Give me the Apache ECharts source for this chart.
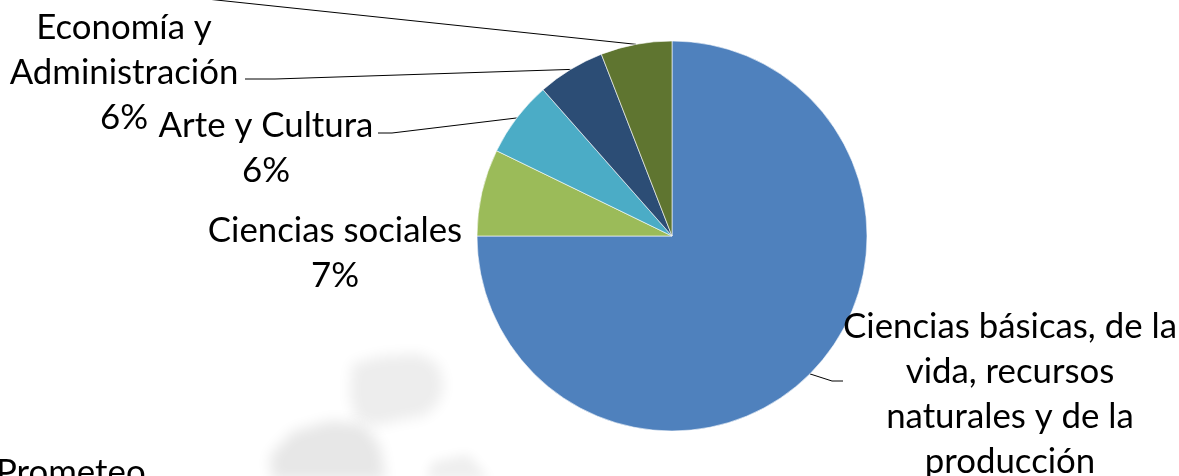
<!DOCTYPE html>
<html><head><meta charset="utf-8">
<script src="https://cdn.jsdelivr.net/npm/echarts@6/dist/echarts.min.js"></script>
<style>html,body{margin:0;padding:0;background:#fff;overflow:hidden}#c{width:1179px;height:476px}</style>
</head><body><div id="c"></div>
<script>
// ---- data ----
var categories = [
  'Ciencias básicas, de la vida, recursos naturales y de la producción',
  'Ciencias sociales',
  'Arte y Cultura',
  'Economía y Administración',
  'Educación'
];
var labelTexts = [
  'Ciencias básicas, de la\nvida, recursos\nnaturales y de la\nproducción',
  'Ciencias sociales',
  'Arte y Cultura',
  'Economía y\nAdministración',
  'Educación'
];
var values = [75.0, 7.2, 6.3, 5.6, 5.9];
var percentLabels = ['75%', '7%', '6%', '6%', '6%'];
var colors = ['#4F81BD', '#9BBB59', '#4BACC6', '#2C4D75', '#5F7530'];

// ---- layout (label placement) ----
var CX = 672, CY = 236, R = 195;
var FONT = 'Lato';
var FS = 34.8, LH = 45;
var labelPlace = [
  {x: 1010, y: 417, pts: [[832, 381], [843, 381]], line: true},
  {x: 335, y: 253, pts: null, line: false},
  {x: 266, y: 148, pts: [[392, 133], [378, 133]], line: true},
  {x: 124, y: 73, pts: [[275, 79], [245, 79]], line: true},
  {x: 70, y: -45, pts: [[150, -7], [150, -7]], line: true}
];

var total = values.reduce(function (a, b) { return a + b; }, 0);
function arcPoint(i) {
  var before = 0;
  for (var k = 0; k < i; k++) before += values[k];
  var mid = (before + values[i] / 2) / total * 2 * Math.PI; // clockwise from 12 o'clock
  return [CX + R * Math.sin(mid), CY - R * Math.cos(mid)];
}

var data = values.map(function (v, i) {
  return {
    name: categories[i],
    value: v,
    itemStyle: {color: colors[i]},
    labelLine: {show: labelPlace[i].line}
  };
});

// faint background watermark, drawn as a blurred shadow of off-screen shapes
var OFF = 3000;
function shade(pts, c, blur) {
  return {type: 'polygon', z: -10, x: -OFF, shape: {points: pts},
    style: {fill: c, shadowColor: c, shadowBlur: blur, shadowOffsetX: OFF * (window.devicePixelRatio || 1)}};
}

var chart = echarts.init(document.getElementById('c'), null, {renderer: 'canvas'});
chart.setOption({
  animation: false,
  backgroundColor: '#fff',
  graphic: [
    shade([[352,364],[382,356],[420,354],[438,364],[444,386],[438,404],[424,416],[400,420],[376,426],[356,420],[350,396]], '#ededed', 14),
    shade([[292,432],[330,421],[364,424],[380,446],[386,480],[272,480],[270,456]], '#e7e7e7', 14),
    shade([[432,462],[468,454],[490,480],[426,480]], '#efefef', 12),
    {type: 'text', left: -4, top: 455, z: 10,
      style: {text: 'Prometeo', font: FS + 'px ' + FONT, fill: '#000'}}
  ],
  series: [{
    type: 'pie',
    center: [CX, CY],
    radius: R,
    startAngle: 90,
    clockwise: true,
    data: data,
    itemStyle: {borderColor: '#ffffff', borderWidth: 0.6},
    label: {
      show: true,
      position: 'outside',
      color: '#000',
      fontFamily: FONT,
      fontSize: FS,
      lineHeight: LH,
      align: 'center',
      overflow: 'none',
      width: 600,
      formatter: function (p) {
        return labelTexts[p.dataIndex] + '\n' + percentLabels[p.dataIndex];
      }
    },
    labelLine: {show: true, lineStyle: {color: '#000', width: 1}, length: 10, length2: 10},
    labelLayout: function (p) {
      var L = labelPlace[p.dataIndex];
      var out = {x: L.x, y: L.y, align: 'center', verticalAlign: 'middle', hideOverlap: false, moveOverlap: null};
      if (L.pts) {
        out.labelLinePoints = [arcPoint(p.dataIndex), L.pts[0], L.pts[1]];
      }
      return out;
    },
    emphasis: {disabled: true}
  }]
});
</script>
</body></html>
